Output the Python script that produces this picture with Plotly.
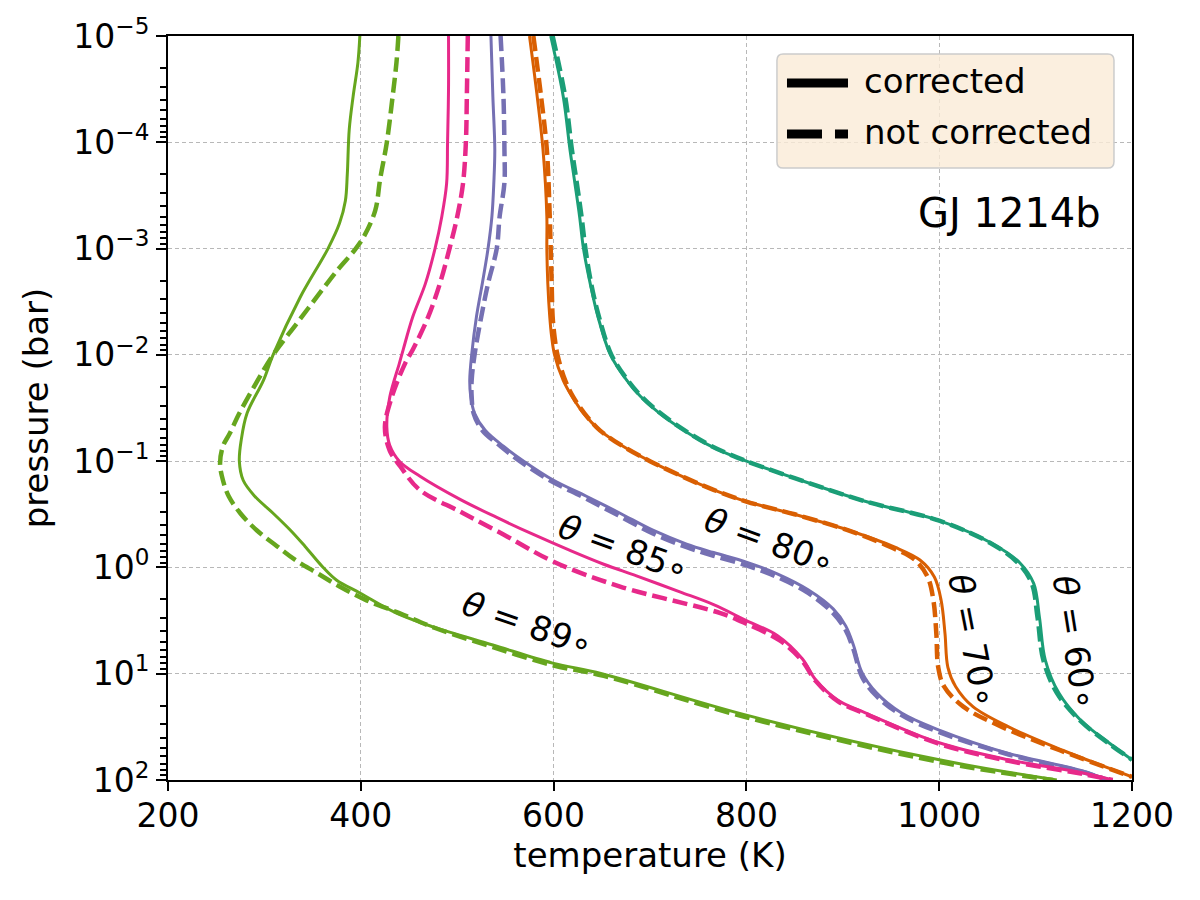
import numpy as np
import plotly.graph_objects as go

# ---------------- data (temperature in K, log10 of pressure in bar) ----------------
# theta = 89 deg
t89_corr = [399, 397, 392, 388, 386, 384, 378, 366, 337, 309, 299, 282, 276, 274, 278, 290, 309, 327, 342, 361, 375, 399, 437, 475, 537, 599, 650, 800, 1000, 1122]
lp89_corr = [-5.0, -4.75, -4.43, -4.12, -3.7, -3.45, -3.24, -3.0, -2.54, -2.0, -1.76, -1.45, -1.2, -1.0, -0.82, -0.67, -0.51, -0.35, -0.20, 0.0, 0.12, 0.24, 0.43, 0.56, 0.73, 0.90, 1.0, 1.39, 1.81, 2.0]
t89_nc = [439, 437, 433, 427, 420, 415, 403, 394, 376, 354, 334, 309, 293, 274, 264, 257, 254, 257, 263, 275, 292, 313, 332, 354, 378, 406, 440, 477, 537, 599, 652, 800, 1000, 1118]
lp89_nc = [-5.0, -4.75, -4.43, -4.0, -3.65, -3.36, -3.11, -2.99, -2.80, -2.54, -2.30, -2.0, -1.76, -1.45, -1.26, -1.14, -0.98, -0.82, -0.67, -0.51, -0.35, -0.20, -0.07, 0.05, 0.18, 0.31, 0.43, 0.57, 0.75, 0.92, 1.02, 1.41, 1.83, 2.0]

# theta = 85 deg
t85_corr = [491, 491, 490, 489, 484, 477, 467, 454, 444, 440, 430, 427, 430, 440, 461, 503, 541, 579, 617, 652, 686, 731, 766, 800, 832, 858, 872, 895, 924, 1000, 1072, 1147, 1180]
lp85_corr = [-5.0, -4.5, -4.0, -3.61, -3.30, -3.0, -2.67, -2.36, -2.05, -1.92, -1.60, -1.32, -1.15, -1.0, -0.86, -0.64, -0.47, -0.31, -0.16, -0.03, 0.08, 0.23, 0.35, 0.50, 0.64, 0.86, 1.06, 1.25, 1.37, 1.65, 1.81, 1.93, 2.0]
t85_nc = [511, 510, 509, 506, 500, 492, 482, 470, 454, 446, 432, 425, 430, 441, 461, 503, 548, 600, 669, 773, 800, 835, 858, 872, 895, 924, 1000, 1072, 1147, 1180]
lp85_nc = [-5.0, -4.43, -4.0, -3.61, -3.30, -3.0, -2.67, -2.36, -2.05, -1.92, -1.6, -1.32, -1.10, -0.95, -0.73, -0.525, -0.31, -0.054, 0.18, 0.43, 0.53, 0.69, 0.88, 1.07, 1.26, 1.38, 1.66, 1.82, 1.94, 2.0]

# theta = 80 deg
t80_corr = [535, 537, 539, 538, 536, 532, 526, 520, 515, 513, 514, 518, 529, 548, 569, 600, 634, 669, 703, 738, 766, 800, 832, 864, 890, 903, 911, 920, 935, 961, 1000, 1072, 1147, 1175]
lp80_corr = [-5.0, -4.43, -3.93, -3.62, -3.30, -3.0, -2.67, -2.36, -2.0, -1.76, -1.61, -1.45, -1.29, -1.14, -1.0, -0.82, -0.67, -0.51, -0.35, -0.22, -0.14, -0.05, 0.06, 0.21, 0.39, 0.55, 0.73, 0.99, 1.18, 1.37, 1.53, 1.75, 1.91, 2.0]
t80_nc = [545, 548, 549, 549, 544, 541, 532, 525, 518, 515, 515, 517, 526, 545, 565, 596, 631, 667, 703, 738, 766, 800, 832, 864, 890, 903, 911, 920, 935, 961, 1000, 1072, 1147, 1175]
lp80_nc = [-5.0, -4.43, -3.93, -3.62, -3.30, -3.0, -2.67, -2.36, -2.0, -1.76, -1.61, -1.45, -1.29, -1.14, -1.0, -0.82, -0.66, -0.49, -0.32, -0.19, -0.11, -0.02, 0.09, 0.24, 0.43, 0.59, 0.77, 1.03, 1.21, 1.39, 1.55, 1.76, 1.92, 2.0]

# theta = 70 deg
t70_corr = [575, 583, 589, 593, 593, 594, 596, 598, 601, 610, 619, 631, 648, 672, 700, 735, 766, 800, 850, 906, 954, 980, 995, 1002, 1006, 1009, 1017, 1035, 1072, 1128, 1200]
lp70_corr = [-5.0, -4.43, -3.93, -3.30, -3.0, -2.67, -2.36, -2.17, -2.0, -1.76, -1.61, -1.45, -1.29, -1.14, -1.0, -0.85, -0.73, -0.62, -0.50, -0.35, -0.19, -0.07, 0.09, 0.31, 0.62, 0.94, 1.12, 1.31, 1.50, 1.72, 1.97]
t70_nc = [579, 587, 593, 596, 597, 598, 599, 601, 604, 612, 620, 632, 648, 672, 700, 735, 766, 800, 850, 905, 950, 975, 988, 994, 997, 999, 1005, 1025, 1065, 1125, 1200]
lp70_nc = [-5.0, -4.43, -3.93, -3.30, -3.0, -2.67, -2.36, -2.17, -2.0, -1.76, -1.61, -1.45, -1.29, -1.14, -1.0, -0.85, -0.73, -0.62, -0.50, -0.35, -0.19, -0.07, 0.09, 0.31, 0.62, 0.94, 1.12, 1.31, 1.50, 1.72, 1.97]

# theta = 60 deg
t60_corr = [597, 610, 617, 622, 627, 631, 638, 646, 659, 676, 690, 710, 735, 759, 780, 800, 850, 924, 1000, 1054, 1084, 1098, 1104, 1110, 1124, 1147, 1176, 1200]
lp60_corr = [-5.0, -4.43, -3.93, -3.62, -3.30, -3.0, -2.67, -2.36, -2.0, -1.76, -1.61, -1.45, -1.29, -1.16, -1.07, -1.0, -0.84, -0.62, -0.44, -0.23, -0.04, 0.15, 0.47, 0.87, 1.18, 1.44, 1.65, 1.81]
t60_nc = [599, 612, 619, 624, 629, 633, 639, 647, 660, 677, 691, 711, 736, 760, 781, 800, 850, 924, 1000, 1053, 1082, 1096, 1102, 1108, 1122, 1146, 1175, 1200]
lp60_nc = [-5.0, -4.43, -3.93, -3.62, -3.30, -3.0, -2.67, -2.36, -2.0, -1.76, -1.61, -1.45, -1.29, -1.16, -1.07, -1.0, -0.84, -0.62, -0.44, -0.23, -0.04, 0.15, 0.47, 0.87, 1.18, 1.44, 1.65, 1.81]

angles = ["60", "70", "80", "85", "89"]
colors = {"60": "#1b9e77", "70": "#d95f02", "80": "#7570b3", "85": "#e7298a", "89": "#66a61e"}
series = {
    "60": (t60_corr, lp60_corr, t60_nc, lp60_nc),
    "70": (t70_corr, lp70_corr, t70_nc, lp70_nc),
    "80": (t80_corr, lp80_corr, t80_nc, lp80_nc),
    "85": (t85_corr, lp85_corr, t85_nc, lp85_nc),
    "89": (t89_corr, lp89_corr, t89_nc, lp89_nc),
}

# label positions (temperature, log10 pressure, rotation)
label_pos = {
    "89": (573, 0.53, 19),
    "85": (673, -0.18, 20),
    "80": (824, -0.25, 20),
    "70": (1035, 0.69, 79),
    "60": (1141, 0.70, 81),
}

ytick_vals = [1e-5, 1e-4, 1e-3, 1e-2, 1e-1, 1e0, 1e1, 1e2]
ytick_text = ["10<sup>−5</sup>", "10<sup>−4</sup>", "10<sup>−3</sup>", "10<sup>−2</sup>",
              "10<sup>−1</sup>", "10<sup>0</sup>", "10<sup>1</sup>", "10<sup>2</sup>"]
legend_labels = ["corrected", "not corrected"]

FONT = "DejaVu Sans"
fig = go.Figure()

for a in angles:
    tc, lc, tn, ln = series[a]
    c = colors[a]
    fig.add_trace(go.Scatter(
        x=tn, y=np.power(10.0, ln), mode="lines", showlegend=False,
        line=dict(color=c, width=4.5, dash="15px,6px", shape="spline", smoothing=1.0),
        hoverinfo="skip"))
    fig.add_trace(go.Scatter(
        x=tc, y=np.power(10.0, lc), mode="lines", showlegend=False,
        line=dict(color=c, width=3, shape="spline", smoothing=1.0),
        hoverinfo="skip"))

for a in angles:
    tx, ly, ang = label_pos[a]
    fig.add_annotation(x=tx, y=ly, xref="x", yref="y",
                       text="<i>θ</i> = " + a + "∘", showarrow=False,
                       textangle=ang, font=dict(family=FONT, size=34, color="black"))

fig.add_annotation(x=0.97, y=0.762, xref="paper", yref="paper", xanchor="right",
                   yanchor="middle", text="GJ 1214b", showarrow=False,
                   font=dict(family=FONT, size=40, color="black"))

# ---- legend box (drawn in paper coordinates) ----
x0, x1, y0, y1 = 0.6317, 0.9813, 0.8226, 0.9758
rx, ry = 0.0065, 0.0085
legend_path = (f"M {x0+rx},{y0} L {x1-rx},{y0} Q {x1},{y0} {x1},{y0+ry} "
               f"L {x1},{y1-ry} Q {x1},{y1} {x1-rx},{y1} L {x0+rx},{y1} "
               f"Q {x0},{y1} {x0},{y1-ry} L {x0},{y0+ry} Q {x0},{y0} {x0+rx},{y0} Z")
fig.add_shape(type="path", path=legend_path, xref="paper", yref="paper",
              fillcolor="rgba(250,235,215,0.8)", line=dict(color="#cccccc", width=1.5), layer="above")
fig.add_shape(type="line", xref="paper", yref="paper", x0=0.6421, x1=0.7054, y0=0.9368, y1=0.9368,
              line=dict(color="black", width=9), layer="above")
fig.add_shape(type="line", xref="paper", yref="paper", x0=0.6421, x1=0.7054, y0=0.8683, y1=0.8683,
              line=dict(color="black", width=9, dash="35px,13px"), layer="above")
for lab, yy in zip(legend_labels, [0.9368, 0.8683]):
    fig.add_annotation(x=0.7199, y=yy + 0.003, xref="paper", yref="paper", xanchor="left",
                       yanchor="middle", text=lab, showarrow=False,
                       font=dict(family=FONT, size=34, color="black"))

fig.update_layout(
    width=1200, height=900,
    margin=dict(l=168, r=68, t=36, b=120),
    paper_bgcolor="white", plot_bgcolor="white",
    font=dict(family=FONT, size=33, color="black"),
    showlegend=False,
)

fig.update_xaxes(
    range=[200, 1200], dtick=200, tick0=200,
    showline=True, linecolor="black", linewidth=2, mirror=True,
    ticks="outside", ticklen=9, tickwidth=2, tickcolor="black",
    tickfont=dict(family=FONT, size=33, color="black"),
    showgrid=True, gridcolor="#b8b8b8", griddash="4px,3px", gridwidth=1,
    zeroline=False,
    title=dict(text="temperature (K)", font=dict(family=FONT, size=34, color="black"), standoff=0),
)
try:
    fig.update_xaxes(ticklabelstandoff=-4)
except Exception:
    pass

minor_vals = [m * 10.0 ** e for e in range(-5, 2) for m in range(2, 10)]
fig.update_yaxes(
    type="log", range=[2, -5], tickmode="array", tickvals=ytick_vals, ticktext=ytick_text,
    showline=True, linecolor="black", linewidth=2, mirror=True,
    ticks="outside", ticklen=10, tickwidth=2, tickcolor="black",
    tickfont=dict(family=FONT, size=33, color="black"),
    minor=dict(ticks="outside", ticklen=6, tickwidth=1.5, tickcolor="black",
               tickmode="array", tickvals=minor_vals, showgrid=False),
    showgrid=True, gridcolor="#b8b8b8", griddash="4px,3px", gridwidth=1,
    zeroline=False,
    title=dict(text="pressure (bar)", font=dict(family=FONT, size=34, color="black"), standoff=14),
)

fig.write_html("out.html")
